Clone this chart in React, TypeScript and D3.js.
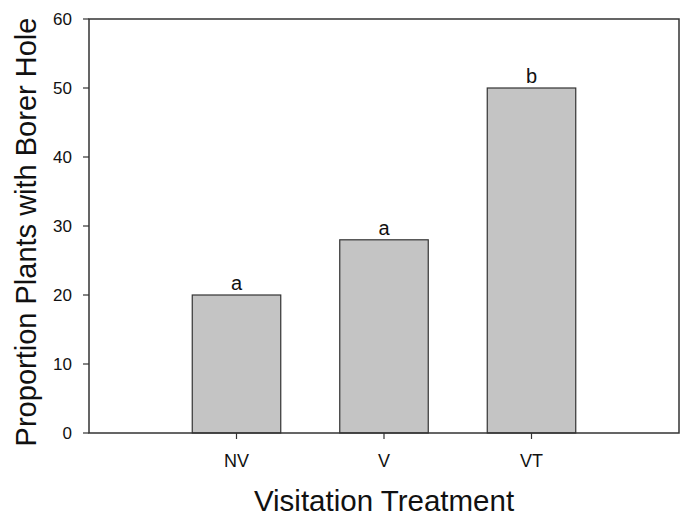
import React from 'react';
import { scaleLinear } from 'd3';

const categories = ['NV', 'V', 'VT'];
const values = [20, 28, 50];
const letters = ['a', 'a', 'b'];
const yTicks = [0, 10, 20, 30, 40, 50, 60];

const W = 682, H = 516;
const left = 89, right = 679, top = 19, bottom = 433;

export default function App() {
  const x = scaleLinear().domain([0, 4]).range([left, right]);
  const y = scaleLinear().domain([0, 60]).range([bottom, top]);
  const bw = x(0.6) - x(0);
  const font = 'Arial, "Liberation Sans", sans-serif';

  return (
    <svg width={W} height={H} style={{ position: 'absolute', left: 0, top: 0 }} fontFamily={font}>
      <rect width={W} height={H} fill="#fff" />
      {/* bars */}
      {values.map((v, i) => (
        <g key={categories[i]}>
          <rect x={x(i + 1) - bw / 2} y={y(v)} width={bw} height={y(0) - y(v)}
            fill="#c4c4c4" stroke="#333" strokeWidth={1.2} />
          <text x={x(i + 1)} y={y(v) - 5} textAnchor="middle" fontSize={20} fill="#111">{letters[i]}</text>
        </g>
      ))}
      {/* frame */}
      <rect x={left} y={top} width={right - left} height={bottom - top} fill="none" stroke="#333" strokeWidth={1.5} />
      {/* y axis */}
      {yTicks.map(t => (
        <g key={t}>
          <line x1={left - 6} x2={left} y1={y(t)} y2={y(t)} stroke="#333" strokeWidth={1.2} />
          <text x={left - 17} y={y(t)} dy="0.36em" textAnchor="end" fontSize={17} fill="#111">{t}</text>
        </g>
      ))}
      {/* x axis */}
      {categories.map((c, i) => (
        <g key={c}>
          <line x1={x(i + 1)} x2={x(i + 1)} y1={bottom} y2={bottom + 6} stroke="#333" strokeWidth={1.2} />
          <text x={x(i + 1)} y={467} textAnchor="middle" fontSize={18} fill="#111">{c}</text>
        </g>
      ))}
      <text x={x(2)} y={511} textAnchor="middle" fontSize={29.5} fill="#111">Visitation Treatment</text>
      <text transform={`translate(36,232) rotate(-90)`} textAnchor="middle" fontSize={29} fill="#111">
        Proportion Plants with Borer Hole
      </text>
    </svg>
  );
}
